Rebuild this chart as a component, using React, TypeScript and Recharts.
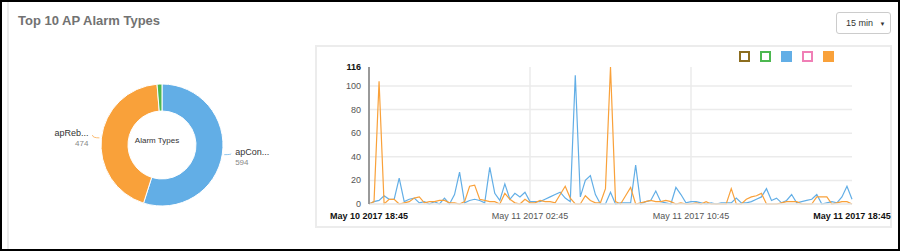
import React from 'react';
import {
    PieChart,
    Pie,
    Cell,
    LineChart,
    Line,
    XAxis,
    YAxis,
    CartesianGrid,
} from 'recharts';

const FONT = '"Liberation Sans", Arial, Helvetica, sans-serif';

// alarm type totals for the donut
const alarmNames = ['apConnectionLost', 'apRebootByUser', 'apFactoryReset'];
const alarmShort = ['apCon...', 'apReb...', 'apFac...'];
const alarmTotals = [594, 474, 14];
const alarmColors = ['#62aee6', '#f9a13a', '#4cb850'];

// 15 min buckets from May 10 2017 18:45 to May 11 2017 18:45
const xTicks = [0, 32, 64, 96];
const xTickLabels = [
    'May 10 2017 18:45',
    'May 11 2017 02:45',
    'May 11 2017 10:45',
    'May 11 2017 18:45',
];
const yTicks = [0, 20, 40, 60, 80, 100, 116];

const blueSeries = [
    0, 2, 3, 7, 4, 4, 22, 2, 4, 5,
    1, 2, 0, 2, 0, 5, 0, 8, 27, 1,
    3, 4, 3, 1, 31, 9, 3, 17, 4, 9,
    6, 10, 2, 2, 2, 4, 6, 8, 10, 5,
    2, 109, 6, 20, 24, 8, 0, 0, 10, 0,
    1, 1, 1, 33, 0, 2, 3, 11, 2, 1,
    0, 14, 8, 1, 2, 2, 1, 0, 1, 0,
    1, 1, 1, 5, 1, 1, 2, 4, 6, 13,
    3, 5, 1, 3, 8, 1, 2, 3, 4, 8,
    0, 1, 2, 1, 6, 15, 4,
];
const orangeSeries = [
    0, 2, 104, 0, 4, 4, 0, 1, 2, 5,
    6, 1, 2, 2, 3, 3, 1, 1, 0, 2,
    15, 16, 4, 3, 2, 2, 0, 9, 4, 1,
    0, 4, 1, 1, 3, 2, 2, 1, 8, 15,
    5, 0, 0, 7, 3, 1, 1, 13, 116, 2,
    0, 7, 14, 0, 1, 2, 3, 2, 2, 3,
    2, 0, 1, 0, 0, 1, 0, 2, 0, 0,
    0, 0, 13, 0, 0, 4, 6, 7, 9, 0,
    0, 0, 1, 2, 2, 2, 0, 0, 0, 6,
    6, 6, 0, 1, 2, 2, 0,
];

const legendColors = ['#8c6d1f', '#4cb850', '#62aee6', '#f07fb6', '#f9a13a'];
const legendFilled = [false, false, true, false, true];

const pieData = alarmNames.map((name, i) => ({
    name,
    short: alarmShort[i],
    value: alarmTotals[i],
}));

const lineData = blueSeries.map((b, i) => ({
    idx: i,
    blue: b,
    orange: orangeSeries[i],
}));

const RAD = Math.PI / 180;

function PieLabel(props: any) {
    const { cx, cy, midAngle, outerRadius, index, payload } = props;
    if (index > 1) return null;
    const cos = Math.cos(-midAngle * RAD);
    const sin = Math.sin(-midAngle * RAD);
    const sx = cx + (outerRadius + 2) * cos;
    const sy = cy + (outerRadius + 2) * sin;
    const ex = cx + (outerRadius + 9) * cos;
    const ey = cy + (outerRadius + 9) * sin - 2;
    const right = cos >= 0;
    const tx = ex + (right ? 4 : -4);
    return (
        <g>
            <path
                d={`M${sx},${sy}Q${ex},${sy} ${ex},${ey}`}
                stroke={alarmColors[index]}
                strokeOpacity={0.7}
                fill="none"
            />
            <text
                x={tx}
                y={ey + 1}
                textAnchor={right ? 'start' : 'end'}
                fontSize={9}
                fill="#333"
                fontFamily={FONT}
            >
                {payload.short}
            </text>
            <text
                x={tx}
                y={ey + 11}
                textAnchor={right ? 'start' : 'end'}
                fontSize={8}
                fill="#888"
                fontFamily={FONT}
            >
                {payload.value}
            </text>
        </g>
    );
}

function XTick(props: any) {
    const { x, y, payload, index } = props;
    const bold = index === 0 || index === xTicks.length - 1;
    return (
        <text
            x={x}
            y={y + 7}
            textAnchor="middle"
            fontSize={9}
            fontWeight={bold ? 'bold' : 'normal'}
            fill={bold ? '#111' : '#555'}
            fontFamily={FONT}
        >
            {xTickLabels[xTicks.indexOf(payload.value)]}
        </text>
    );
}

function YTick(props: any) {
    const { x, y, payload } = props;
    const top = payload.value === 116;
    return (
        <text
            x={x}
            y={y + 3}
            textAnchor="end"
            fontSize={9}
            fontWeight={top ? 'bold' : 'normal'}
            fill={top ? '#111' : '#555'}
            fontFamily={FONT}
        >
            {payload.value}
        </text>
    );
}

export default function App() {
    return (
        <div
            style={{
                position: 'absolute',
                left: 0,
                top: 0,
                width: 900,
                height: 251,
                boxSizing: 'border-box',
                border: '2px solid #000',
                background: '#fff',
                fontFamily: FONT,
                overflow: 'hidden',
            }}
        >
            <div
                style={{
                    position: 'absolute',
                    left: 5,
                    top: 0,
                    width: 2,
                    height: 251,
                    background: '#ececec',
                }}
            />
            <div
                style={{
                    position: 'absolute',
                    left: 16,
                    top: 11,
                    fontSize: 13,
                    fontWeight: 'bold',
                    color: '#727272',
                }}
            >
                Top 10 AP Alarm Types
            </div>
            <div
                style={{
                    position: 'absolute',
                    left: 834,
                    top: 10,
                    width: 55,
                    height: 22,
                    boxSizing: 'border-box',
                    border: '1px solid #ccc',
                    borderRadius: 3,
                    fontSize: 9,
                    color: '#333',
                    lineHeight: '20px',
                    paddingLeft: 9,
                }}
            >
                15 min <span style={{ fontSize: 6, marginLeft: 4 }}>▼</span>
            </div>

            <div style={{ position: 'absolute', left: -2, top: -2 }}>
                <PieChart width={300} height={251}>
                    <Pie
                        data={pieData}
                        dataKey="value"
                        cx={157}
                        cy={140}
                        innerRadius={34}
                        outerRadius={61}
                        startAngle={90}
                        endAngle={-270}
                        stroke="#fff"
                        strokeWidth={1}
                        label={PieLabel}
                        labelLine={false}
                        isAnimationActive={false}
                    >
                        {pieData.map((d, i) => (
                            <Cell key={d.name} fill={alarmColors[i]} />
                        ))}
                    </Pie>
                    <text
                        x={157}
                        y={143}
                        textAnchor="middle"
                        fontSize={8}
                        fill="#333"
                        fontFamily={FONT}
                    >
                        Alarm Types
                    </text>
                </PieChart>
            </div>

            <div
                style={{
                    position: 'absolute',
                    left: 313,
                    top: 43,
                    width: 577,
                    height: 183,
                    border: '2px solid #ececec',
                    boxSizing: 'border-box',
                }}
            />
            {legendColors.map((c, i) => (
                <div
                    key={c}
                    style={{
                        position: 'absolute',
                        left: 737 + i * 21,
                        top: 49,
                        width: 11,
                        height: 11,
                        boxSizing: 'border-box',
                        border: `2px solid ${c}`,
                        background: legendFilled[i] ? c : '#fff',
                    }}
                />
            ))}
            <div style={{ position: 'absolute', left: 313, top: 43 }}>
                <LineChart
                    width={577}
                    height={183}
                    data={lineData}
                    margin={{ top: 22, right: 40, bottom: 0, left: 0 }}
                >
                    <CartesianGrid
                        stroke="#ebebeb"
                        strokeWidth={1.5}
                        horizontalValues={[20, 40, 60, 80, 100]}
                        verticalValues={[32, 64]}
                    />
                    <XAxis
                        dataKey="idx"
                        type="number"
                        domain={[0, 96]}
                        ticks={xTicks}
                        tick={<XTick />}
                        tickLine={false}
                        axisLine={{ stroke: '#e6e6e6', strokeWidth: 1.5 }}
                        height={24}
                        interval={0}
                    />
                    <YAxis
                        type="number"
                        domain={[0, 116]}
                        ticks={yTicks}
                        tick={<YTick />}
                        tickLine={false}
                        axisLine={{ stroke: '#999', strokeWidth: 2 }}
                        width={54}
                        interval={0}
                    />
                    <Line
                        type="linear"
                        dataKey="blue"
                        stroke="#62aee6"
                        strokeWidth={1.2}
                        dot={false}
                        isAnimationActive={false}
                    />
                    <Line
                        type="linear"
                        dataKey="orange"
                        stroke="#f9a13a"
                        strokeWidth={1.2}
                        dot={false}
                        isAnimationActive={false}
                    />
                </LineChart>
            </div>
        </div>
    );
}
